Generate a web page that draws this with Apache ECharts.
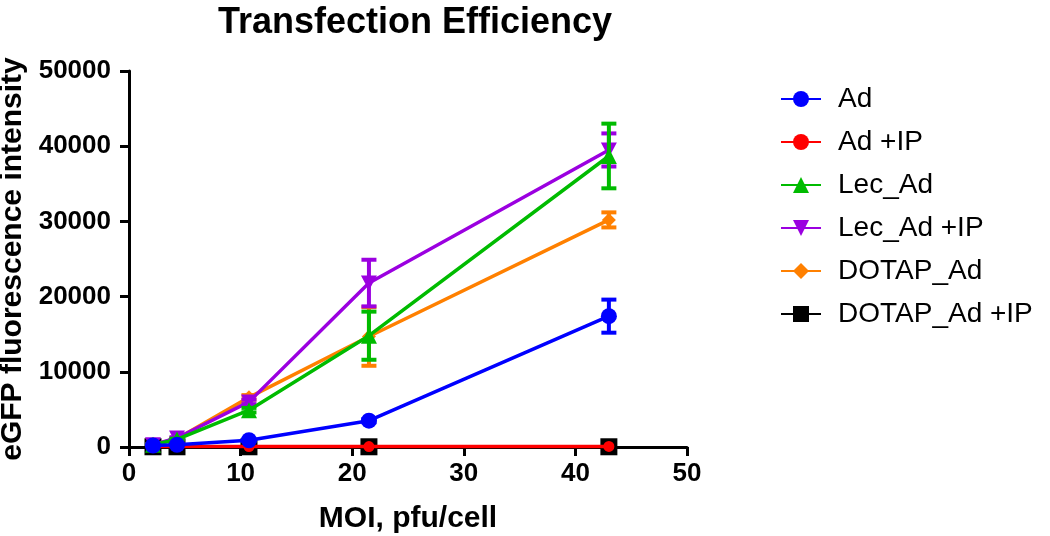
<!DOCTYPE html>
<html><head><meta charset="utf-8">
<script src="https://cdn.jsdelivr.net/npm/echarts@6/dist/echarts.min.js"></script>
<style>html,body{margin:0;padding:0;background:#fff}#c{width:1050px;height:536px}</style>
</head><body><div id="c"></div>
<script>
const moi = [2.15, 4.3, 10.75, 21.5, 43];
const xTicks = [0, 10, 20, 30, 40, 50];
const yTicks = [0, 10000, 20000, 30000, 40000, 50000];
const seriesNames = ['Ad', 'Ad +IP', 'Lec_Ad', 'Lec_Ad +IP', 'DOTAP_Ad', 'DOTAP_Ad +IP'];
const ad        = [200, 300, 900, 3500, 17400];
const adErr     = [50, 50, 100, 200, 2200];
const adIP      = [50, 50, 50, 60, 80];
const adIPErr   = [0, 0, 0, 0, 0];
const lecAd     = [300, 1000, 4900, 14800, 38700];
const lecAdErr  = [50, 100, 300, 3200, 4300];
const lecAdIP   = [300, 1200, 6000, 21800, 39500];
const lecAdIPErr= [50, 100, 300, 3100, 2200];
const dotapAd   = [300, 1100, 6600, 14700, 30200];
const dotapAdErr= [50, 100, 300, 3900, 1000];
const dotapAdIP = [30, 30, 30, 30, 30];
const dotapAdIPErr = [0, 0, 0, 0, 0];

const FONT = '"Liberation Sans", Arial, sans-serif';
const defs = [
  {name: seriesNames[0], y: ad, e: adErr, color: '#0000ff', symbol: 'circle', size: 16, z: 12},
  {name: seriesNames[1], y: adIP, e: adIPErr, color: '#ff0000', symbol: 'circle', size: 11, z: 11},
  {name: seriesNames[2], y: lecAd, e: lecAdErr, color: '#00bb00', symbol: 'triangle', size: 16, z: 10},
  {name: seriesNames[3], y: lecAdIP, e: lecAdIPErr, color: '#9b00e0', symbol: 'path://M0,0L10,0L5,9Z', size: [16, 15], z: 9},
  {name: seriesNames[4], y: dotapAd, e: dotapAdErr, color: '#ff8000', symbol: 'diamond', size: 14, z: 8},
  {name: seriesNames[5], y: dotapAdIP, e: dotapAdIPErr, color: '#000000', symbol: 'rect', size: 17, z: 7}
];

const series = [];
defs.forEach(d => {
  series.push({
    name: d.name, type: 'line', data: moi.map((x, i) => [x, d.y[i]]),
    symbol: d.symbol, symbolSize: d.size, showAllSymbol: true,
    lineStyle: {color: d.color, width: 3.5}, itemStyle: {color: d.color},
    z: d.z, animation: false
  });
  series.push({
    name: d.name + ' err', type: 'custom', z: d.z, animation: false,
    data: moi.map((x, i) => [x, d.y[i] - d.e[i], d.y[i] + d.e[i]]).filter((v, i) => d.e[i] > 0),
    encode: {x: 0, y: [1, 2]},
    renderItem: function (params, api) {
      const x = api.value(0), lo = api.value(1), hi = api.value(2);
      const p1 = api.coord([x, lo]), p2 = api.coord([x, hi]);
      const w = 7.5;
      const st = {stroke: d.color, lineWidth: 4};
      return {type: 'group', children: [
        {type: 'line', shape: {x1: p1[0], y1: p1[1], x2: p2[0], y2: p2[1]}, style: st},
        {type: 'line', shape: {x1: p1[0] - w, y1: p1[1], x2: p1[0] + w, y2: p1[1]}, style: st},
        {type: 'line', shape: {x1: p2[0] - w, y1: p2[1], x2: p2[0] + w, y2: p2[1]}, style: st}
      ]};
    }
  });
});

const chart = echarts.init(document.getElementById('c'), null, {renderer: 'canvas'});
chart.setOption({
  animation: false,
  backgroundColor: '#fff',
  title: {text: 'Transfection Efficiency', left: 410, textAlign: 'center', top: 0,
    textStyle: {fontFamily: FONT, fontWeight: 'bold', fontSize: 36, color: '#000'}},
  legend: {
    orient: 'vertical', left: 775, top: 80, itemWidth: 40, itemHeight: 20, itemGap: 15,
    data: seriesNames,
    textStyle: {fontFamily: FONT, fontSize: 28, color: '#000', padding: [0, 0, 0, 12]}
  },
  grid: {left: 129, right: 363, top: 71, bottom: 89, containLabel: false, outerBoundsMode: 'none'},
  xAxis: {
    type: 'value', min: xTicks[0], max: xTicks[xTicks.length - 1], interval: 10,
    name: 'MOI, pfu/cell', nameLocation: 'middle', nameGap: 57,
    nameTextStyle: {fontFamily: FONT, fontWeight: 'bold', fontSize: 30, color: '#000'},
    axisLine: {show: true, onZero: false, lineStyle: {color: '#000', width: 3}},
    axisTick: {show: true, length: 9, lineStyle: {color: '#000', width: 3}},
    axisLabel: {margin: 14, fontFamily: FONT, fontWeight: 'bold', fontSize: 26, color: '#000'},
    splitLine: {show: false}
  },
  yAxis: {
    type: 'value', min: yTicks[0], max: yTicks[yTicks.length - 1], interval: 10000,
    name: 'eGFP fluorescence intensity', nameLocation: 'middle', nameGap: 86,
    nameTextStyle: {fontFamily: FONT, fontWeight: 'bold', fontSize: 30, color: '#000'},
    axisLine: {show: true, onZero: false, lineStyle: {color: '#000', width: 3}},
    axisTick: {show: true, length: 9, lineStyle: {color: '#000', width: 3}},
    axisLabel: {margin: 18, fontFamily: FONT, fontWeight: 'bold', fontSize: 26, color: '#000',
      formatter: v => String(v)},
    splitLine: {show: false}
  },
  series: series
});
</script></body></html>
